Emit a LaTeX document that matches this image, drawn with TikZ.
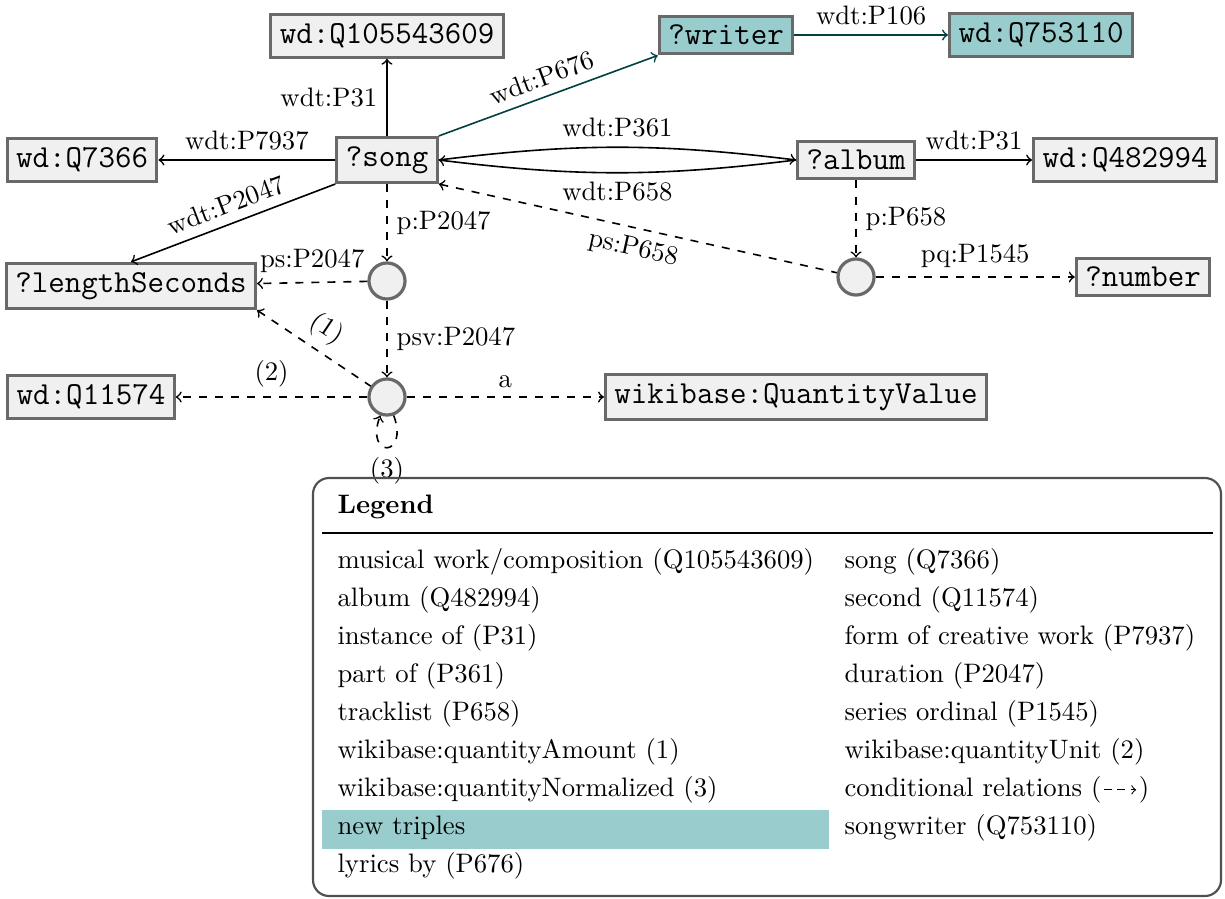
\documentclass[tikz,border=0pt]{standalone}
\definecolor{boxfill}{RGB}{240,240,240}
\definecolor{boxline}{RGB}{105,105,105}
\definecolor{newfill}{RGB}{153,204,204}
\definecolor{newline}{RGB}{0,64,64}
\definecolor{legendline}{RGB}{80,80,80}
\begin{document}
\begin{tikzpicture}[x=0.3745pt,y=-0.3745pt,
  entity/.style={draw=boxline,fill=boxfill,line width=1.2pt,font=\large\ttfamily,inner sep=0.3333em},
  newentity/.style={entity,fill=newfill},
  stmt/.style={circle,draw=boxline,fill=boxfill,line width=1.2pt,minimum size=13.5pt,inner sep=0pt},
  rel/.style={->,line width=0.6pt},
  cond/.style={rel,dashed},
  newrel/.style={rel,draw=newline},
  legtext/.style={anchor=base west,inner sep=0pt},
  every loop/.append style={min distance=6mm}
]
\useasboundingbox (0,0) rectangle (1225,898);

% entities and statement nodes
\node[entity] (musical) at (387,36) {wd:Q105543609};
\node[newentity] (writer) at (726,35) {?writer};
\node[newentity] (songwriter) at (1041,35) {wd:Q753110};
\node[entity] (songcls) at (82,160) {wd:Q7366};
\node[entity] (song) at (387,160) {?song};
\node[entity] (album) at (856,160) {?album};
\node[entity] (albumcls) at (1125,160) {wd:Q482994};
\node[entity] (length) at (131,286) {?lengthSeconds};
\node[stmt] (dur) at (387,281) {};
\node[stmt] (track) at (856,277) {};
\node[entity] (number) at (1143,277) {?number};
\node[stmt] (qty) at (387,397) {};
\node[entity] (second) at (91,397) {wd:Q11574};
\node[entity] (qv) at (796,397) {wikibase:QuantityValue};

% relations
\draw[rel] (song) -- node[left]{wdt:P31} (musical);
\draw[newrel] (song.north east) -- node[sloped,above]{wdt:P676} (writer.south west);
\draw[newrel] (writer) -- node[above]{wdt:P106} (songwriter);
\draw[rel] (song) -- node[above]{wdt:P7937} (songcls);
\draw[rel,<-] (length.north) -- node[sloped,above]{wdt:P2047} (song.south west);
\draw[rel] (song.east) to[bend left=7] node[above]{wdt:P361} (album.west);
\draw[rel] (album.west) to[bend left=7] node[below]{wdt:P658} (song.east);
\draw[rel] (album) -- node[above]{wdt:P31} (albumcls);
\draw[cond] (song) -- node[right]{p:P2047} (dur);
\draw[cond] (dur) -- node[above]{ps:P2047} (length);
\draw[cond] (dur) -- node[right]{psv:P2047} (qty);
\draw[cond,<-] (length.south east) -- node[sloped,above]{(1)} (qty);
\draw[cond] (qty) -- node[above]{(2)} (second);
\draw[cond] (qty) -- node[above]{a} (qv);
\draw[cond] (qty) to[out=-70,in=-110,loop] node[below]{(3)} (qty);
\draw[cond] (album) -- node[right]{p:P658} (track);
\draw[cond,<-] (song.south east) -- node[sloped,below]{ps:P658} (track);
\draw[cond] (track) -- node[above]{pq:P1545} (number);

% legend
\draw[legendline,line width=0.8pt,rounded corners=6pt] (313,478) rectangle (1221,896);
\fill[newfill] (322,810) rectangle (829,849);
\node[legtext,font=\bfseries] (legtitle) at (337,513) {Legend};
\draw[line width=0.8pt] (322,533) -- (1213,533);

\node[legtext] (l0) at (337,568.5) {musical work/composition (Q105543609)};
\node[legtext] (l1) at (337,606.5) {album (Q482994)};
\node[legtext] (l2) at (337,644.5) {instance of (P31)};
\node[legtext] (l3) at (337,682.5) {part of (P361)};
\node[legtext] (l4) at (337,720.5) {tracklist (P658)};
\node[legtext] (l5) at (337,758.5) {wikibase:quantityAmount (1)};
\node[legtext] (l6) at (337,796.5) {wikibase:quantityNormalized (3)};
\node[legtext] (l7) at (337,834.5) {new triples};
\node[legtext] (l8) at (337,872.5) {lyrics by (P676)};

\node[legtext] (r0) at (844,568.5) {song (Q7366)};
\node[legtext] (r1) at (844,606.5) {second (Q11574)};
\node[legtext] (r2) at (844,644.5) {form of creative work (P7937)};
\node[legtext] (r3) at (844,682.5) {duration (P2047)};
\node[legtext] (r4) at (844,720.5) {series ordinal (P1545)};
\node[legtext] (r5) at (844,758.5) {wikibase:quantityUnit (2)};
\node[legtext] (r6) at (844,796.5) {conditional relations (};
\coordinate (condA) at ([xshift=0.8pt,yshift=2.5pt]r6.base east);
\coordinate (condB) at ([xshift=12pt]condA);
\draw[dashed,->,line width=0.4pt,dash pattern=on 3pt off 2pt] (condA) -- (condB);
\node[legtext] (r6b) at ([xshift=0.8pt,yshift=-2.5pt]condB) {)};
\node[legtext] (r7) at (844,834.5) {songwriter (Q753110)};
\end{tikzpicture}
\end{document}
